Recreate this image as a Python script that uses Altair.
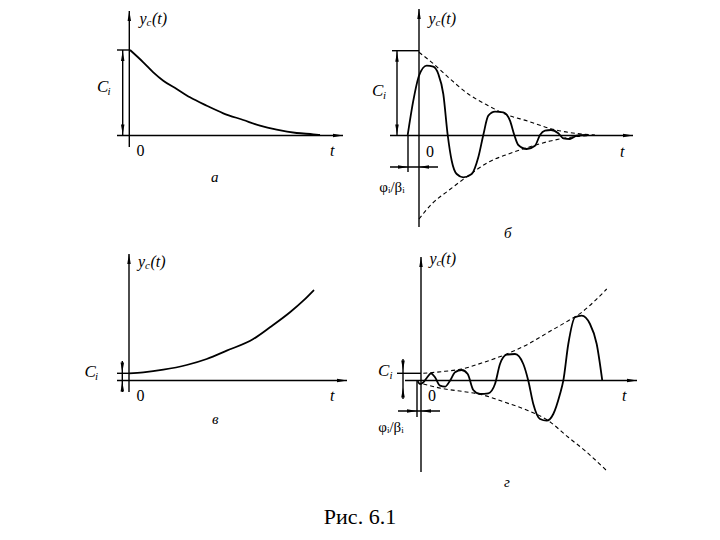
import altair as alt
import pandas as pd

# ---- curves (page pixel coordinates) ----
# panel а: decaying exponential
a_x = [130, 143.3, 153.3, 163.3, 176.7, 190, 206.7, 223.3, 243.3, 260, 276.7, 296.7, 313.3, 320]
a_y = [46, 58.3, 68.3, 76.7, 85, 93.3, 101.7, 109.3, 116, 121.7, 125.7, 129, 130.3, 131]

# panel б: damped oscillation
b_x = [407.7, 413.3, 419, 426.7, 433.3, 438.3, 443.3, 447.7, 451.7, 456.7, 463.3, 471.7, 478.3,
       483.3, 488.3, 495, 503.3, 510, 514.3, 518.3, 526.7, 535, 540, 545, 551, 558.3, 563.3,
       570, 576.7, 586.7]
b_y = [131, 96.7, 71.7, 61.7, 62.7, 70, 90, 131, 156.7, 170, 173.3, 170, 153.3,
       131, 111.7, 107.7, 108.3, 116.7, 131, 141, 145, 141.7, 131, 126.7, 126, 129.3, 134.3,
       135, 131.7, 131]
b_up_x = [419, 431.7, 448.3, 468.3, 488.3, 505, 528.3, 551.7, 575, 595]
b_up_y = [48.3, 58.3, 73.3, 90, 101.7, 110, 117.3, 125, 129.3, 131]
b_lo_x = [419, 431.7, 448.3, 468.3, 488.3, 508.3, 528.3, 551.7, 575, 595]
b_lo_y = [215, 200, 186.7, 171.7, 158.3, 150, 143.3, 136.7, 132.7, 131.3]

# panel в: growing exponential
c_x = [129, 143.3, 163.3, 186.7, 206.7, 226.7, 253.3, 270, 290, 303.3, 314]
c_y = [369.3, 368.3, 365.7, 361, 355, 346.7, 335, 323.3, 308.3, 296.7, 286]

# panel г: growing oscillation
d_x = [417.7, 420, 423.3, 426.7, 431, 435, 440, 445, 450, 455, 461.7, 467.7, 473.3, 480,
       488.3, 495, 500, 506.7, 515, 523.3, 528.3, 533.3, 540, 546.7, 553.3, 560, 563.3,
       568.3, 575, 581.7, 590, 596.7, 602.3]
d_y = [377.3, 380, 378.3, 374, 369.3, 373.3, 381.7, 382.7, 376.7, 368.3, 366, 370, 386, 390,
       389.3, 380, 360, 350.7, 350, 360, 376.7, 400, 415, 416.7, 410, 390, 376.7,
       340, 313.3, 311.7, 320, 340, 376.7]
d_up_x = [423.3, 445, 461.7, 481.7, 505, 528.3, 548.3, 568.3, 581.7, 595, 606.7]
d_up_y = [369.3, 367.3, 365, 359, 350.7, 340, 328.3, 316.7, 308.3, 296.7, 285]
d_lo_x = [423.3, 445, 461.7, 481.7, 505, 528.3, 548.3, 568.3, 585, 606.7]
d_lo_y = [380, 385, 387.3, 390.7, 398.3, 406.7, 416.7, 433.3, 446.7, 466.7]

# ---- straight segments: axes, C_i ticks, dimension lines ----
seg_x1 = [129.3, 117, 117, 122.7,
          419, 390, 392, 397, 408, 390,
          129, 117, 117, 122.3,
          421, 405, 397, 403, 417, 398]
seg_y1 = [7, 131.5, 46, 46,
          5, 131.5, 46.7, 46.7, 131.5, 163,
          250, 376.5, 369.3, 357,
          253, 376.5, 369.3, 355, 376.5, 407]
seg_x2 = [129.3, 343, 129.3, 122.7,
          419, 633, 419, 397, 408, 438,
          129, 347, 129, 122.3,
          421, 637, 421, 403, 417, 440]
seg_y2 = [143, 131.5, 46, 131.5,
          223, 131.5, 46.7, 131.5, 168, 163,
          388, 376.5, 369.3, 388,
          468, 376.5, 369.3, 395, 413, 407]

# ---- arrowheads ----
arr_x = [129.3, 338, 122.7, 122.7,
         419, 628, 397, 397, 403, 424,
         129, 342, 122.3, 122.3,
         421, 632, 403, 403, 412, 426]
arr_y = [12, 131.5, 52, 125.5,
         10, 131.5, 52.7, 125.5, 163, 163,
         255, 376.5, 363.5, 382.5,
         258, 376.5, 361.5, 388.5, 407, 407]
arr_dir = ["up", "right", "up", "down",
           "up", "right", "up", "down", "right", "left",
           "up", "right", "down", "up",
           "up", "right", "down", "up", "right", "left"]

# ---- labels ----
it_text = ["y", "(t)", "C", "t", "а",
           "y", "(t)", "C", "t", "б",
           "y", "(t)", "C", "t", "в",
           "y", "(t)", "C", "t", "г"]
it_x = [139.5, 152, 97, 330, 211,
        428.5, 441, 372, 620, 504,
        138, 150.5, 84.5, 330, 212,
        429.5, 441, 378, 622, 504]
it_y = [15, 15, 83, 147, 173,
        15, 15, 87, 148, 229,
        258, 258, 368, 392, 415,
        255, 255, 367, 392, 478]
it_size = [16, 16, 17, 16, 15,
           16, 16, 17, 16, 15,
           16, 16, 17, 16, 15,
           16, 16, 17, 16, 15]

sub_text = ["c", "i", "c", "i", "c", "i", "c", "i"]
sub_x = [146.5, 107.5, 435.5, 383, 145, 95, 436.5, 389.5]
sub_y = [19, 88, 19, 92, 262, 372.5, 259, 371.5]

up_text = ["0", "0", "0", "0", "φᵢ/βᵢ", "φᵢ/βᵢ", "Рис. 6.1"]
up_x = [140.5, 430, 140.5, 432, 392, 391, 360]
up_y = [147, 148, 392, 392, 183, 423, 513]
up_size = [16, 16, 16, 16, 15, 15, 22]


def curve_frame(pairs):
    rows = []
    for cid, (xs, ys) in pairs.items():
        for i, (x, y) in enumerate(zip(xs, ys)):
            rows.append({"id": cid, "o": i, "x": x, "y": y})
    return pd.DataFrame(rows)


solid_df = curve_frame({"a": (a_x, a_y), "b": (b_x, b_y), "c": (c_x, c_y), "d": (d_x, d_y)})
dash_df = curve_frame({"bu": (b_up_x, b_up_y), "bl": (b_lo_x, b_lo_y),
                       "du": (d_up_x, d_up_y), "dl": (d_lo_x, d_lo_y)})
seg_df = pd.DataFrame({"x": seg_x1, "y": seg_y1, "x2": seg_x2, "y2": seg_y2})
arr_df = pd.DataFrame({"x": arr_x, "y": arr_y, "dir": arr_dir})
it_df = pd.DataFrame({"x": it_x, "y": it_y, "t": it_text, "s": it_size})
sub_df = pd.DataFrame({"x": sub_x, "y": sub_y, "t": sub_text})
up_df = pd.DataFrame({"x": up_x, "y": up_y, "t": up_text, "s": up_size})

X = alt.X("x:Q", scale=alt.Scale(domain=[8, 712], nice=False, zero=False), axis=None)
Y = alt.Y("y:Q", scale=alt.Scale(domain=[8, 532], nice=False, zero=False, reverse=True), axis=None)
FONT = "Times New Roman, Times, serif"

solid = alt.Chart(solid_df).mark_line(color="black", strokeWidth=1.8, interpolate="monotone").encode(
    x=X, y=Y, detail="id:N", order="o:Q")
dashed = alt.Chart(dash_df).mark_line(color="black", strokeWidth=1.1, strokeDash=[4, 3],
                                      interpolate="monotone").encode(
    x=X, y=Y, detail="id:N", order="o:Q")
segs = alt.Chart(seg_df).mark_rule(color="black", strokeWidth=1.4).encode(
    x=X, y=Y, x2="x2:Q", y2="y2:Q")

paths = ["M0,-1L0.35,1L-0.35,1Z", "M0,1L0.35,-1L-0.35,-1Z",
         "M-1,0L1,-0.35L1,0.35Z", "M1,0L-1,-0.35L-1,0.35Z"]
arrows = alt.Chart(arr_df).mark_point(filled=True, color="black", opacity=1, size=100).encode(
    x=X, y=Y,
    shape=alt.Shape("dir:N", scale=alt.Scale(domain=["up", "down", "left", "right"], range=paths),
                    legend=None))

italic = alt.Chart(it_df).mark_text(font=FONT, fontStyle="italic", color="black",
                                    align="left", baseline="middle").encode(
    x=X, y=Y, text="t:N", size=alt.Size("s:Q", scale=None))
subs = alt.Chart(sub_df).mark_text(font=FONT, fontStyle="italic", color="black", fontSize=11,
                                   align="left", baseline="middle").encode(x=X, y=Y, text="t:N")
upright = alt.Chart(up_df).mark_text(font=FONT, color="black", align="center",
                                     baseline="middle").encode(
    x=X, y=Y, text="t:N", size=alt.Size("s:Q", scale=None))

chart = alt.layer(segs, dashed, solid, arrows, italic, subs, upright).properties(
    width=704, height=524, padding=0, background="white"
).configure_view(stroke=None)

chart.save("out.html", embed_options={"renderer": "svg", "actions": False})
